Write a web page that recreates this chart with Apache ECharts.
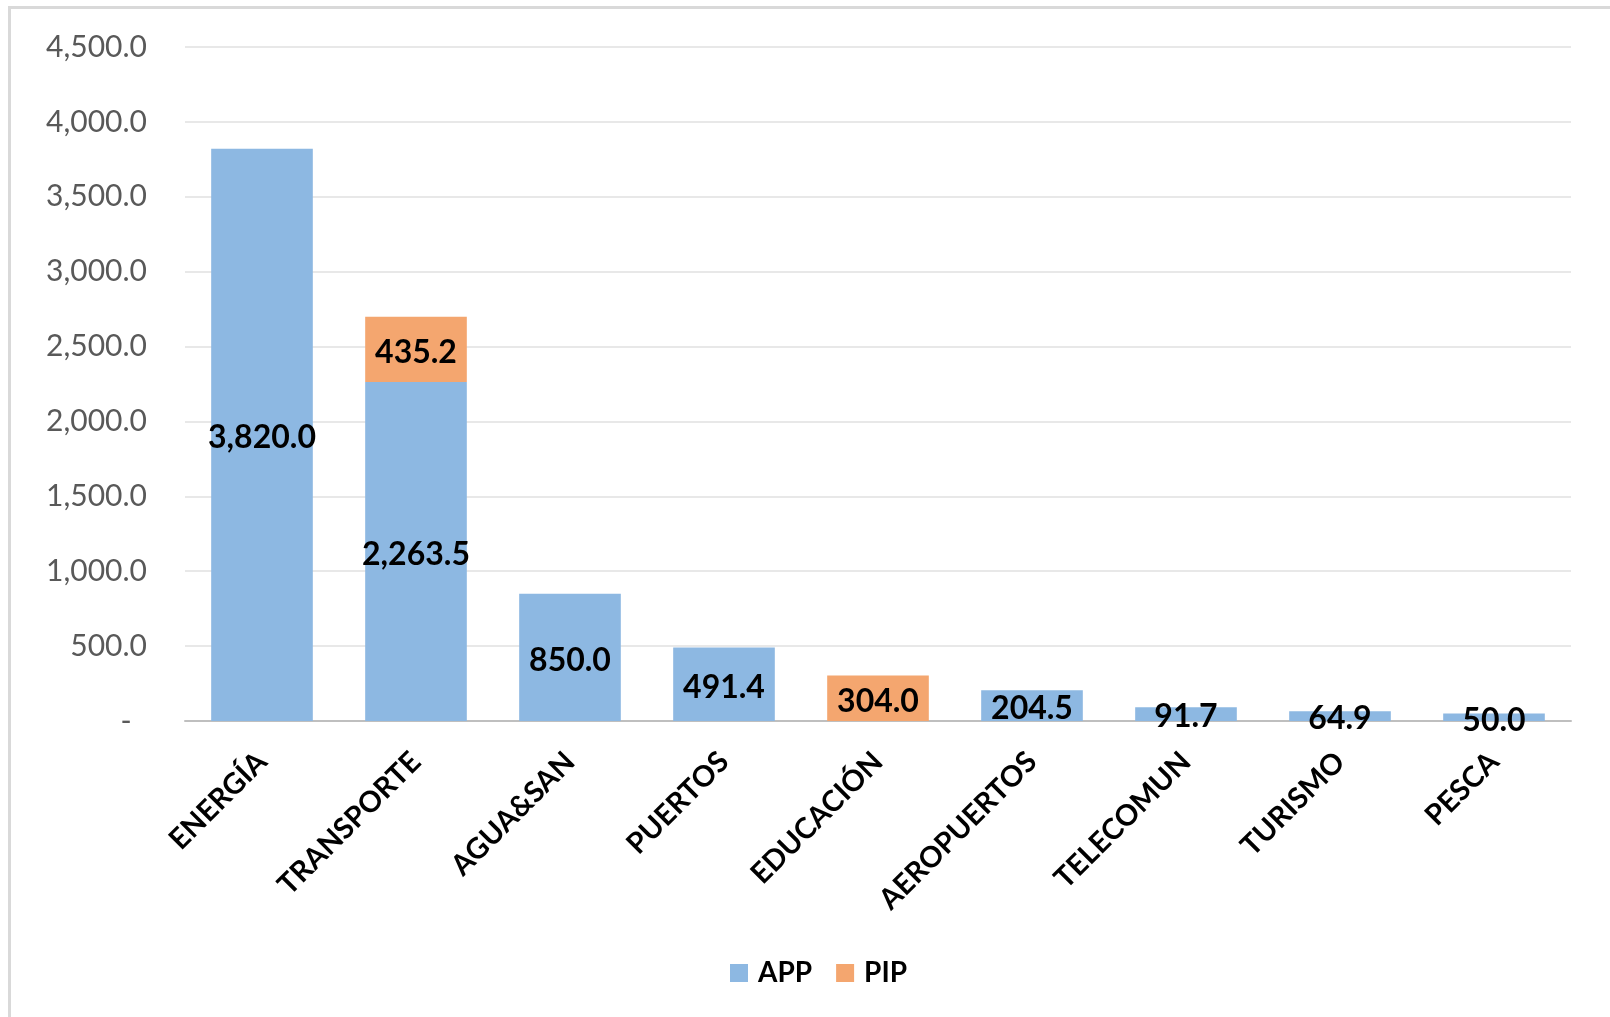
<!DOCTYPE html>
<html>
<head>
<meta charset="utf-8">
<script src="https://cdn.jsdelivr.net/npm/echarts@6/dist/echarts.min.js"></script>
<style>
html,body{margin:0;padding:0;background:#fff;}
#c{width:1610px;height:1017px;}
</style>
</head>
<body>
<div id="c"></div>
<script>
const categories = ['ENERGÍA','TRANSPORTE','AGUA&SAN','PUERTOS','EDUCACIÓN','AEROPUERTOS','TELECOMUN','TURISMO','PESCA'];
const appValues = [3820.0, 2263.5, 850.0, 491.4, 0, 204.5, 91.7, 64.9, 50.0];
const pipValues = [0, 435.2, 0, 0, 304.0, 0, 0, 0, 0];
const seriesNames = ['APP','PIP'];
const yMin = 0, yMax = 4500, yInterval = 500;

const FONT = 'Lato';
const fmt1 = v => v.toLocaleString('en-US',{minimumFractionDigits:1, maximumFractionDigits:1});

const chart = echarts.init(document.getElementById('c'));
const labelCfg = {
  show: true,
  position: 'inside',
  color: '#000',
  fontFamily: FONT,
  fontWeight: 'bold',
  fontSize: 32,
  offset: [0, 3],
  formatter: p => p.value ? fmt1(p.value) : ''
};
chart.setOption({
  animation: false,
  textStyle: {fontFamily: FONT},
  graphic: [{
    type: 'rect',
    shape: {x: 9.5, y: 7.5, width: 1700, height: 1100},
    style: {fill: 'none', stroke: '#D9D9D9', lineWidth: 3},
    silent: true
  }],
  grid: {left: 185, right: 39, top: 47, bottom: 296, containLabel: false},
  legend: {
    data: seriesNames,
    bottom: 30,
    left: 730,
    padding: 0,
    itemWidth: 18, itemHeight: 18, itemGap: 24,
    icon: 'rect',
    textStyle: {fontFamily: FONT, fontWeight: 'bold', fontSize: 28, color: '#000', padding: [0, 0, 0, 5]}
  },
  xAxis: {
    type: 'category',
    data: categories,
    axisLine: {lineStyle: {color: '#BFBFBF', width: 2}},
    axisTick: {show: false},
    axisLabel: {rotate: 45, interval: 0, margin: 36, color: '#000', fontFamily: FONT, fontWeight: 'bold', fontSize: 29}
  },
  yAxis: {
    type: 'value',
    min: yMin, max: yMax, interval: yInterval,
    axisLine: {show: false},
    axisTick: {show: false},
    splitLine: {lineStyle: {color: '#E8E8E8', width: 2}},
    axisLabel: {margin: 38, color: '#595959', fontFamily: FONT, fontSize: 30,
      formatter: v => v === 0 ? '-  ' : fmt1(v)}
  },
  series: [
    {name: seriesNames[0], type: 'bar', stack: 't', data: appValues, barWidth: '66%',
     itemStyle: {color: '#8DB8E2'}, label: labelCfg},
    {name: seriesNames[1], type: 'bar', stack: 't', data: pipValues, barWidth: '66%',
     itemStyle: {color: '#F4A66F'}, label: labelCfg}
  ]
});
</script>
</body>
</html>
